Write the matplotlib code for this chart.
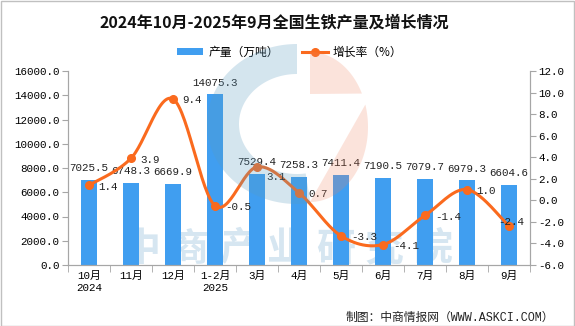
import numpy as np
import matplotlib
matplotlib.use("Agg")
import matplotlib.pyplot as plt
from matplotlib.patches import Rectangle, Polygon, Patch
from matplotlib.lines import Line2D

categories = ['10月\n2024', '11月', '12月', '1-2月\n2025', '3月', '4月', '5月', '6月', '7月', '8月', '9月']
output = [7025.5, 6748.3, 6669.9, 14075.3, 7529.4, 7258.3, 7411.4, 7190.5, 7079.7, 6979.3, 6604.6]
growth = [1.4, 3.9, 9.4, -0.5, 3.1, 0.7, -3.3, -4.1, -1.4, 1.0, -2.4]
left_ticks = [0, 2000, 4000, 6000, 8000, 10000, 12000, 14000, 16000]
right_ticks = [-6, -4, -2, 0, 2, 4, 6, 8, 10, 12]
title = '2024年10月-2025年9月全国生铁产量及增长情况'
legend_labels = ['产量（万吨）', '增长率（%）']
footer = '制图：中商情报网（WWW.ASKCI.COM）'
watermark = '中商产业研究院'

BAR = '#409EF0'
LINE = '#FA6A1E'
AX = '#A6A6A6'
MONO = ['Liberation Mono', 'Noto Sans CJK SC']
CJK = ['Noto Sans CJK SC', 'DejaVu Sans']

W, H = 575, 326
fig = plt.figure(figsize=(W / 100, H / 100), dpi=100)

def fx(px):
    return px / W

def fy(py):
    return 1 - py / H

# figure border
fig.patches.append(Rectangle((0.5 / W, 0.5 / H), 1 - 1.5 / W, 1 - 1.5 / H, transform=fig.transFigure,
                             fill=False, edgecolor='#C0C0C0', lw=1, zorder=0))

# background watermark text (behind bars)
for i, ch in enumerate(watermark):
    fig.text(fx(141 + i * 48.6), fy(249), ch, fontsize=28, fontweight='bold', color='#D6E6F1',
             family=CJK, ha='center', va='center', zorder=0)

ax = fig.add_axes([fx(68), fy(265), fx(530) - fx(68), fy(71) - fy(265)])
ax2 = ax.twinx()
ax.set_zorder(1)
ax2.set_zorder(2)
ax.patch.set_visible(False)
ax2.patch.set_visible(False)

x = np.arange(len(categories))

bars = ax.bar(x, output, width=0.36, color=BAR, zorder=2)
ax.set_xlim(-0.5, len(categories) - 0.5)
ax.set_ylim(0, 16000)
ax.set_yticks(left_ticks)
ax.set_yticklabels([f'{v:.1f}' for v in left_ticks], family=MONO, fontsize=7.8)
ax.set_xticks(x)
ax.set_xticklabels(categories, family=MONO, fontsize=7.8, linespacing=1.3)
ax.set_xticks(np.arange(len(categories) + 1) - 0.5, minor=True)
ax.tick_params(axis='x', which='major', length=0, pad=4)
ax.tick_params(axis='x', which='minor', length=5, color=AX)
ax.tick_params(axis='y', length=4, color=AX, pad=2)

for b, v in zip(bars, output):
    ax.annotate(f'{v:.1f}', (b.get_x() + b.get_width() / 2, v), xytext=(0, 8.5),
                textcoords='offset points', ha='center', va='center', family=MONO,
                fontsize=7.8, color='#222222', zorder=3)

for a in (ax, ax2):
    a.spines['top'].set_visible(False)
    for s in ('left', 'right', 'bottom'):
        a.spines[s].set_color(AX)

# smoothed line (Excel-style Bezier / Catmull-Rom)
def smooth(xs, ys, n=30):
    P = np.column_stack([xs, ys]).astype(float)
    Pp = np.vstack([P[0], P, P[-1]])
    out = []
    for i in range(len(P) - 1):
        p0, p1, p2, p3 = Pp[i], Pp[i + 1], Pp[i + 2], Pp[i + 3]
        b1 = p1 + (p2 - p0) / 6
        b2 = p2 - (p3 - p1) / 6
        t = np.linspace(0, 1, n)[:, None]
        seg = (1 - t) ** 3 * p1 + 3 * (1 - t) ** 2 * t * b1 + 3 * (1 - t) * t ** 2 * b2 + t ** 3 * p2
        out.append(seg if i == 0 else seg[1:])
    s = np.vstack(out)
    return s[:, 0], s[:, 1]

sx, sy = smooth(x, growth)
ax2.plot(sx, sy, color=LINE, lw=2.2, zorder=4, solid_capstyle='round')
ax2.plot(x, growth, 'o', color=LINE, ms=5.5, zorder=5)
ax2.set_ylim(-6, 12)
ax2.set_yticks(right_ticks)
ax2.set_yticklabels([f'{v:.1f}' for v in right_ticks], family=MONO, fontsize=7.8)
ax2.tick_params(axis='y', length=4, color=AX, pad=2)

nudge = {4: (0, -6), 10: (-15, 4)}
for i, v in enumerate(growth):
    dx, dy = nudge.get(i, (0, 0))
    ax2.annotate(f'{v:.1f}', (x[i], v), xytext=(7 + dx, -1 + dy), textcoords='offset points',
                 ha='left', va='center', family=MONO, fontsize=7.8, color='#222222', zorder=6)

# logo watermark overlay
logo_ax = fig.add_axes([0, 0, 1, 1], zorder=10)
logo_ax.set_xlim(0, W)
logo_ax.set_ylim(H, 0)
logo_ax.axis('off')
th = np.linspace(np.pi / 2, 3 * np.pi / 2 + 0.15, 120)
cx, cy = 297, 124
outer = np.column_stack([cx + 90 * np.cos(th), cy - 80 * np.sin(th)])
inner = np.column_stack([cx + 58 * np.cos(th[::-1]), cy - 50 * np.sin(th[::-1])])
logo_ax.add_patch(Polygon(np.vstack([outer, inner]), closed=True, facecolor='#5B9BC0',
                          alpha=0.26, lw=0))
th2 = np.linspace(-np.pi / 2, np.pi / 2, 120)
px, py = 310, 127
half = np.column_stack([px + 58 * np.cos(th2), py - 75 * np.sin(th2)])
top = half[half[:, 1] < 94]
bot = half[half[:, 1] > 103]
logo_ax.add_patch(Polygon(np.vstack([[px, 94], top, [px, top[:, 1].min()]]) if False else
                          np.vstack([top, [[px, top[:, 1].min()], [px, 94]]]),
                          closed=True, facecolor='#F0825F', alpha=0.22, lw=0))
logo_ax.add_patch(Polygon(np.vstack([[[px, 103]], bot, [[px, bot[:, 1].max()]]]), closed=True,
                          facecolor='#F0825F', alpha=0.22, lw=0))

# title, legend, footer
fig.text(fx(274), fy(22), title, fontsize=11.5, fontweight='bold', family=CJK,
         ha='center', va='center', color='#111111')
handles = [Patch(facecolor=BAR, edgecolor='none'),
           Line2D([0], [0], color=LINE, lw=2.2, marker='o', ms=5.5)]
fig.legend(handles, legend_labels, loc='center', bbox_to_anchor=(fx(290), fy(52)), ncol=2,
           frameon=False, prop={'family': CJK, 'size': 8.5}, handlelength=2.2,
           handleheight=0.6, columnspacing=2.0, handletextpad=0.4)
fig.text(fx(554), fy(318), footer, fontsize=8.5, family=MONO, ha='right', va='center', color='#222222')

fig.savefig('out.png', dpi=100)
